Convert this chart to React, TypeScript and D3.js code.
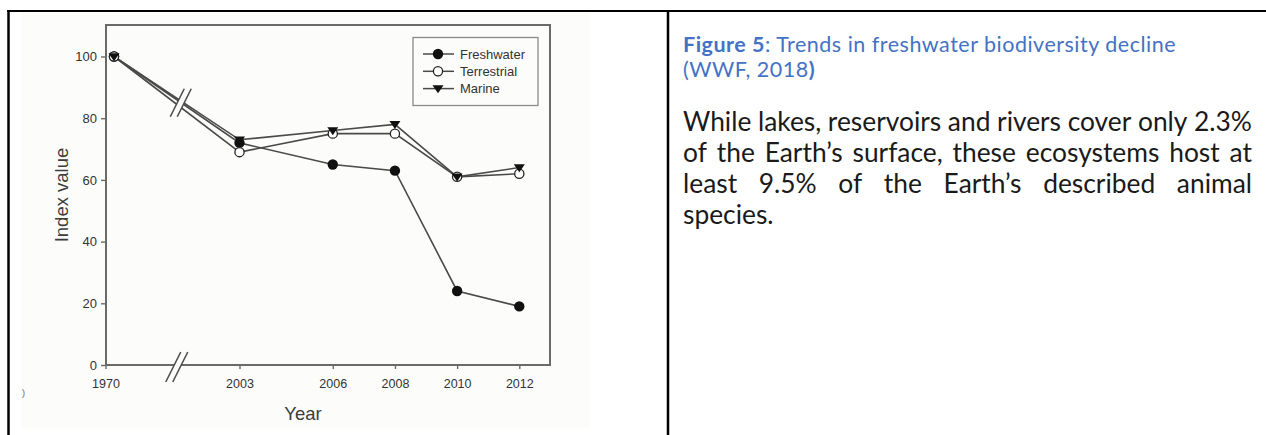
import React, { useEffect, useRef } from 'react';
import * as d3 from 'd3';

const years = [1970, 2003, 2006, 2008, 2010, 2012];
const freshwater = [100, 72, 65, 63, 24, 19];
const terrestrial = [100, 69, 75, 75, 61, 62];
const marine = [100, 73, 76, 78, 61, 64];
const yTicks = [0, 20, 40, 60, 80, 100];
const seriesNames = ['Freshwater', 'Terrestrial', 'Marine'];

const captionLine1 = [
  { t: 'Figure 5', bold: true },
  { t: ': Trends in freshwater biodiversity decline', bold: false },
];
const captionLine2 = [
  { t: '(WWF, 2018', bold: false },
  { t: ')', bold: true },
];
const bodyLines = [
  'While lakes, reservoirs and rivers cover only 2.3%',
  'of the Earth\u2019s surface, these ecosystems host at',
  'least 9.5% of the Earth\u2019s described animal',
  'species.',
];

export default function App() {
  const ref = useRef<SVGSVGElement>(null);

  useEffect(() => {
    const svg = d3.select(ref.current);
    svg.selectAll('*').remove();

    // table borders
    svg.append('line').attr('x1', 7).attr('x2', 1266).attr('y1', 11).attr('y2', 11)
      .attr('stroke', '#000').attr('stroke-width', 2);
    svg.append('line').attr('x1', 8.5).attr('x2', 8.5).attr('y1', 10).attr('y2', 435)
      .attr('stroke', '#000').attr('stroke-width', 2.5);
    svg.append('line').attr('x1', 668).attr('x2', 668).attr('y1', 10).attr('y2', 435)
      .attr('stroke', '#000').attr('stroke-width', 2.5);

    // picture background
    svg.append('rect').attr('x', 21).attr('y', 12.5).attr('width', 569).attr('height', 416)
      .attr('fill', '#fcfcfa');
    svg.append('text').attr('x', 22).attr('y', 396).attr('font-size', 9)
      .attr('font-family', 'Liberation Sans, Arial, sans-serif').attr('fill', '#666').text(')');

    const L = 106, R = 550, T = 25, B = 365;
    const x = d3.scaleLinear().domain([1970, 2003, 2012]).range([114, 239.5, 519.3]);
    const y = d3.scaleLinear().domain([0, 100]).range([B, 56.5]);
    const font = 'Liberation Sans, Arial, Helvetica, sans-serif';
    const axisColor = '#6a6a6a';
    const textColor = '#333';

    const g = svg.append('g');

    // y axis
    const ya = g.append('g').attr('transform', `translate(${L},0)`)
      .call(d3.axisLeft(y).tickValues(yTicks).tickSize(5).tickPadding(4));
    ya.select('.domain').remove();
    ya.selectAll('line').attr('stroke', axisColor).attr('stroke-width', 1.4);
    ya.selectAll('text').attr('font-family', font).attr('font-size', 13).attr('fill', textColor);

    // x axis
    const xa = g.append('g').attr('transform', `translate(0,${B})`)
      .call(d3.axisBottom(x).tickValues(years).tickFormat(d3.format('d')).tickSize(4).tickPadding(10));
    xa.select('.domain').remove();
    xa.selectAll('.tick').filter((d: any) => d === years[0]).attr('transform', `translate(${L},0)`);
    xa.selectAll('line').attr('stroke', axisColor).attr('stroke-width', 1.4);
    xa.selectAll('text').attr('font-family', font).attr('font-size', 12.5).attr('fill', textColor);

    // frame
    g.append('rect').attr('x', L).attr('y', T).attr('width', R - L).attr('height', B - T)
      .attr('fill', 'none').attr('stroke', axisColor).attr('stroke-width', 2);

    // axis titles
    g.append('text').attr('transform', `translate(68,195) rotate(-90)`).attr('text-anchor', 'middle')
      .attr('font-family', font).attr('font-size', 18.5).attr('fill', '#3c3c3c').text('Index value');
    g.append('text').attr('x', 303).attr('y', 420).attr('text-anchor', 'middle')
      .attr('font-family', font).attr('font-size', 18.5).attr('fill', '#3c3c3c').text('Year');

    const line = d3.line<number>().x((_, i) => x(years[i])).y((v) => y(v));
    const series = [freshwater, terrestrial, marine];
    series.forEach((s) => {
      g.append('path').attr('d', line(s)!).attr('fill', 'none')
        .attr('stroke', '#4a4a4a').attr('stroke-width', 1.6);
    });

    // break marks
    const breakMark = (cx: number, cy: number, h: number) => {
      const dx = h * 0.5;
      const gap = 7;
      const bg = g.append('g');
      bg.append('path')
        .attr('d', `M${cx - gap / 2 - dx / 2},${cy + h / 2} L${cx - gap / 2 + dx / 2},${cy - h / 2} L${cx + gap / 2 + dx / 2},${cy - h / 2} L${cx + gap / 2 - dx / 2},${cy + h / 2} Z`)
        .attr('fill', '#fcfcfa');
      [-gap / 2, gap / 2].forEach((o) => {
        bg.append('line')
          .attr('x1', cx + o - dx / 2).attr('y1', cy + h / 2)
          .attr('x2', cx + o + dx / 2).attr('y2', cy - h / 2)
          .attr('stroke', '#4a4a4a').attr('stroke-width', 1.5);
      });
    };
    const bx = (x(years[0]) + x(years[1])) / 2 + 4;
    const by = (y(freshwater[0]) + y(d3.mean([freshwater[1], terrestrial[1], marine[1]])!)) / 2 + 2;
    breakMark(bx, by, 28);
    breakMark(bx - 4, B + 2, 30);

    // markers
    const drawMarker = (sel: any, kind: number, cx: number, cy: number) => {
      if (kind === 0) {
        sel.append('circle').attr('cx', cx).attr('cy', cy).attr('r', 5.2).attr('fill', '#111');
      } else if (kind === 1) {
        sel.append('circle').attr('cx', cx).attr('cy', cy).attr('r', 4.6).attr('fill', '#fff')
          .attr('stroke', '#222').attr('stroke-width', 1.3);
      } else {
        const s = 5.5;
        sel.append('path').attr('d', `M${cx - s},${cy - s * 0.6} L${cx + s},${cy - s * 0.6} L${cx},${cy + s * 0.85} Z`)
          .attr('fill', '#111');
      }
    };
    series.forEach((s, k) => {
      s.forEach((v, i) => drawMarker(g, k, x(years[i]), y(v)));
    });

    // legend
    const lg = g.append('g');
    lg.append('rect').attr('x', 413).attr('y', 37.5).attr('width', 125).attr('height', 68)
      .attr('fill', '#fcfcfa').attr('stroke', '#8a8a8a').attr('stroke-width', 1.3);
    seriesNames.forEach((name, k) => {
      const yy = 54 + k * 17.3;
      lg.append('line').attr('x1', 423).attr('x2', 454).attr('y1', yy).attr('y2', yy)
        .attr('stroke', '#4a4a4a').attr('stroke-width', 1.5);
      drawMarker(lg, k, 438, yy);
      lg.append('text').attr('x', 460).attr('y', yy + 4.5).attr('font-family', font)
        .attr('font-size', 13).attr('fill', textColor).text(name);
    });

    // right-hand text
    const tfont = 'Lato, Carlito, "Open Sans", sans-serif';
    const X0 = 683, XR = 1252;
    const measure = (str: string, size: number, weight: string, ls = 0) => {
      const t = svg.append('text').attr('font-family', tfont).attr('font-size', size)
        .attr('font-weight', weight).attr('letter-spacing', ls).text(str);
      const w = (t.node() as SVGTextElement).getComputedTextLength();
      t.remove();
      return w;
    };
    // caption: fixed size, spacing stretched slightly to the caption width
    const capSize = 21.5;
    const capW = measure(captionLine1[0].t, capSize, 'bold') + measure(captionLine1[1].t, capSize, 'normal');
    const nChars = captionLine1[0].t.length + captionLine1[1].t.length;
    const capLS = Math.min(0.5, Math.max(0, (1224 - X0 - capW) / nChars));
    [captionLine1, captionLine2].forEach((parts, li) => {
      const t = svg.append('text').attr('x', X0).attr('y', 52 + li * 25)
        .attr('font-family', tfont).attr('font-size', capSize).attr('fill', '#4472c4')
        .attr('letter-spacing', capLS);
      parts.forEach((p) => t.append('tspan').attr('font-weight', p.bold ? 'bold' : 'normal').text(p.t));
    });

    const bw = measure(bodyLines[0], 20, 'normal');
    const bodySize = 20 * (XR - X0) / bw;
    bodyLines.forEach((ln, li) => {
      const yy = 131 + li * 31;
      const t = svg.append('text').attr('y', yy).attr('font-family', tfont)
        .attr('font-size', bodySize).attr('fill', '#1a1a1a');
      if (li < bodyLines.length - 1) {
        const words = ln.split(' ');
        const ws = words.map((w) => measure(w, bodySize, 'normal'));
        const gapW = (XR - X0 - d3.sum(ws)) / (words.length - 1);
        let cx = X0;
        words.forEach((w, i) => {
          t.append('tspan').attr('x', cx).text(w);
          cx += ws[i] + gapW;
        });
      } else {
        t.attr('x', X0).text(ln);
      }
    });
  }, []);

  return (
    <svg ref={ref} width={1266} height={435}
      style={{ position: 'absolute', left: 0, top: 0, background: '#fff' }} />
  );
}
